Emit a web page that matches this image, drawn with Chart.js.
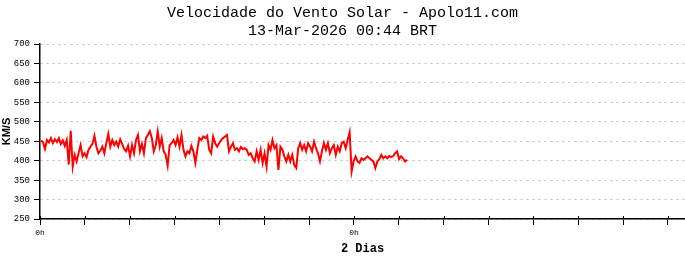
<!DOCTYPE html>
<html>
<head>
<meta charset="utf-8">
<script src="https://cdn.jsdelivr.net/npm/chart.js@4/dist/chart.umd.min.js"></script>
<style>
  html, body { margin: 0; padding: 0; background: #fff; }
  #wrap { width: 685px; height: 260px; }
</style>
</head>
<body>
<div id="wrap"><canvas id="myChart" width="685" height="260"></canvas></div>
<script>
// chart data
const titleText = 'Velocidade do Vento Solar - Apolo11.com';
const subtitleText = '13-Mar-2026 00:44 BRT';
const yLabel = 'KM/S';
const xLabel = '2 Dias';

// hours from the left "0h"; samples are evenly spaced
const startHour = 0.08;
const stepHour = 0.1512;
const xMaxHour = 49.3;
const tickStepHour = 24 / 7;
const dayLabel = '0h';
const labelledTicks = [0, 7];

const yMin = 250;
const yMax = 700;
const yStep = 50;

// solar wind speed, km/s
const speed = [
    452, 447, 430, 453, 447, 458, 445, 455, 448, 458, 443, 452, 438, 453, 390, 477,
    385, 415, 398, 420, 440, 411, 419, 409, 428, 436, 443, 464, 436, 419, 426, 436,
    419, 445, 469, 436, 453, 440, 449, 436, 455, 443, 430, 424, 438, 411, 440, 419,
    453, 466, 424, 443, 419, 458, 466, 476, 458, 424, 440, 475, 436, 458, 424, 415,
    387, 440, 445, 453, 440, 460, 436, 466, 428, 411, 424, 419, 438, 424, 394, 428, 458,
    453, 462, 458, 464, 428, 419, 462, 445, 436, 445, 453, 458, 462,
    466, 424, 436, 445, 428, 432, 424, 435, 430, 432, 428, 415, 419, 406, 398, 424,
    402, 428, 394, 419, 385, 440, 428, 453, 432, 440, 376, 436, 428, 411, 398, 415,
    398, 415, 389, 381, 432, 445, 428, 440, 424, 445, 436, 424, 449, 432, 419, 398,
    424, 445, 428, 445, 419, 432, 440, 415, 436, 424, 445, 449, 432, 453,
    473, 372, 398, 411, 398, 394, 406, 402, 406, 411, 406, 402, 398, 381, 398, 404,
    415, 406, 411, 406, 412, 409, 412, 419, 424, 404, 411, 406, 398, 402
];

const points = speed.map((v, i) => ({ x: startHour + i * stepHour, y: v }));

// x ticks also poke a little above the axis line
const tickUp = {
    id: 'tickUp',
    afterDraw(chart) {
        const xs = chart.scales.x;
        const ctx = chart.ctx;
        ctx.save();
        ctx.strokeStyle = '#000';
        ctx.lineWidth = 1;
        xs.ticks.forEach(t => {
            const px = Math.round(xs.getPixelForValue(t.value)) + 0.5;
            ctx.beginPath();
            ctx.moveTo(px, xs.top - 3);
            ctx.lineTo(px, xs.top);
            ctx.stroke();
        });
        ctx.restore();
    }
};

const chart = new Chart(document.getElementById('myChart'), {
    type: 'line',
    data: {
        datasets: [{
            data: points,
            borderColor: '#ff0000',
            borderWidth: 2,
            pointRadius: 0,
            tension: 0,
            fill: false
        }]
    },
    options: {
        responsive: false,
        animation: false,
        devicePixelRatio: 1,
        events: [],
        layout: { padding: { left: 0, right: 0, top: 0, bottom: 0 } },
        plugins: {
            legend: { display: false },
            tooltip: { enabled: false },
            title: {
                display: true,
                text: titleText,
                color: '#000',
                font: { family: 'Liberation Mono', size: 15, weight: 'normal', lineHeight: 1.2 },
                padding: { top: 4, bottom: 0 }
            },
            subtitle: {
                display: true,
                text: subtitleText,
                color: '#000',
                font: { family: 'Liberation Mono', size: 15, weight: 'normal', lineHeight: 1.2 },
                padding: { top: 0, bottom: 4 }
            }
        },
        scales: {
            x: {
                type: 'linear',
                min: 0,
                max: xMaxHour,
                afterBuildTicks: scale => {
                    const ticks = [];
                    for (let k = 0; k * tickStepHour <= xMaxHour; k++) {
                        ticks.push({ value: k * tickStepHour });
                    }
                    scale.ticks = ticks;
                },
                afterFit: scale => { scale.height = 41; },
                ticks: {
                    autoSkip: false,
                    maxRotation: 0,
                    padding: 3,
                    color: '#000',
                    font: { family: 'Liberation Mono', size: 8 },
                    callback: function (value, index) {
                        return labelledTicks.includes(index) ? dayLabel : '';
                    }
                },
                grid: {
                    display: true,
                    drawOnChartArea: false,
                    drawTicks: true,
                    tickLength: 6,
                    tickColor: '#000',
                    tickWidth: 1
                },
                border: { display: true, color: '#000', width: 1.5 },
                title: {
                    display: true,
                    text: xLabel,
                    color: '#000',
                    font: { family: 'Liberation Mono', size: 12, weight: 'bold', lineHeight: 1.2 },
                    padding: { top: 0, bottom: 4 }
                }
            },
            y: {
                min: yMin,
                max: yMax,
                afterFit: scale => { scale.width = 40; },
                ticks: {
                    stepSize: yStep,
                    padding: 4,
                    color: '#000',
                    font: { family: 'Liberation Mono', size: 9 }
                },
                grid: {
                    display: true,
                    drawOnChartArea: true,
                    color: '#bdbdbd',
                    lineWidth: 1,
                    drawTicks: true,
                    tickLength: 6,
                    tickColor: '#000',
                    tickWidth: 1,
                    tickBorderDash: []
                },
                border: { display: true, color: '#000', width: 1.5, dash: [2, 4] },
                title: {
                    display: true,
                    text: yLabel,
                    color: '#000',
                    font: { family: 'Liberation Sans', size: 11, weight: 'bold', lineHeight: 1.2 },
                    padding: { top: 0, bottom: 1 }
                }
            }
        }
    },
    plugins: [tickUp]
});
</script>
</body>
</html>
